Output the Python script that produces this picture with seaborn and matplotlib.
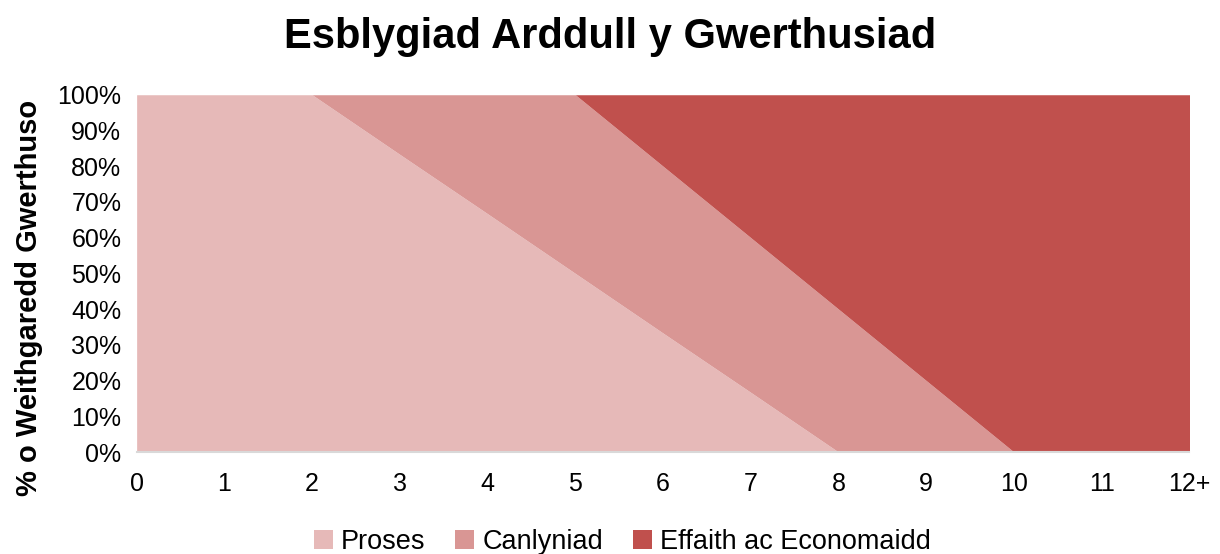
import numpy as np
import matplotlib
matplotlib.use("Agg")
import matplotlib.pyplot as plt
import seaborn as sns

# data (share of evaluation activity, %)
years = [0, 1, 2, 3, 4, 5, 6, 7, 8, 9, 10, 11, 12]
year_labels = ["0", "1", "2", "3", "4", "5", "6", "7", "8", "9", "10", "11", "12+"]
proses = [100, 100, 100, 83.3, 66.7, 50, 33.3, 16.7, 0, 0, 0, 0, 0]
canlyniad = [0, 0, 0, 16.7, 33.3, 50, 46.7, 43.3, 40, 20, 0, 0, 0]
effaith = [0, 0, 0, 0, 0, 0, 20, 40, 60, 80, 100, 100, 100]
series_names = ["Proses", "Canlyniad", "Effaith ac Economaidd"]
colors = ["#E6B9B8", "#D99694", "#C0504D"]

sns.set_style("white")
plt.rcParams["font.family"] = ["Liberation Sans", "DejaVu Sans"]
plt.rcParams["text.color"] = "#000000"

fig = plt.figure(figsize=(12.2, 5.54), dpi=100)
ax = fig.add_axes([0.112, 0.184, 0.863, 0.645])

ax.stackplot(years, proses, canlyniad, effaith, colors=colors,
             labels=series_names, linewidth=0)

ax.set_xlim(0, 12)
ax.set_ylim(0, 100)
ax.set_xticks(years)
ax.set_xticklabels(year_labels)
ax.set_yticks(np.arange(0, 101, 10))
ax.set_yticklabels([f"{v}%" for v in range(0, 101, 10)])
ax.tick_params(axis="x", labelsize=18, labelcolor="#000000", length=7,
               width=1.5, color="#D9D9D9", direction="out", pad=7)
ax.tick_params(axis="y", labelsize=18, labelcolor="#000000", length=0, pad=11)

for s in ["top", "right", "left"]:
    ax.spines[s].set_visible(False)
ax.spines["bottom"].set_color("#D9D9D9")
ax.spines["bottom"].set_linewidth(1.5)

ax.set_ylabel("% o Weithgaredd Gwerthuso", fontsize=21, fontweight="bold",
              color="#000000")
ax.yaxis.set_label_coords(-0.089, 0.43)
fig.suptitle("Esblygiad Arddull y Gwerthusiad", fontsize=30, fontweight="bold",
             color="#000000", y=0.97)

fig.legend(loc="lower center", ncol=3, frameon=False, fontsize=19.5,
           bbox_to_anchor=(0.51, -0.045), handlelength=0.7, handleheight=0.7,
           handletextpad=0.3, columnspacing=1.1)

fig.savefig("out.png", dpi=100)
